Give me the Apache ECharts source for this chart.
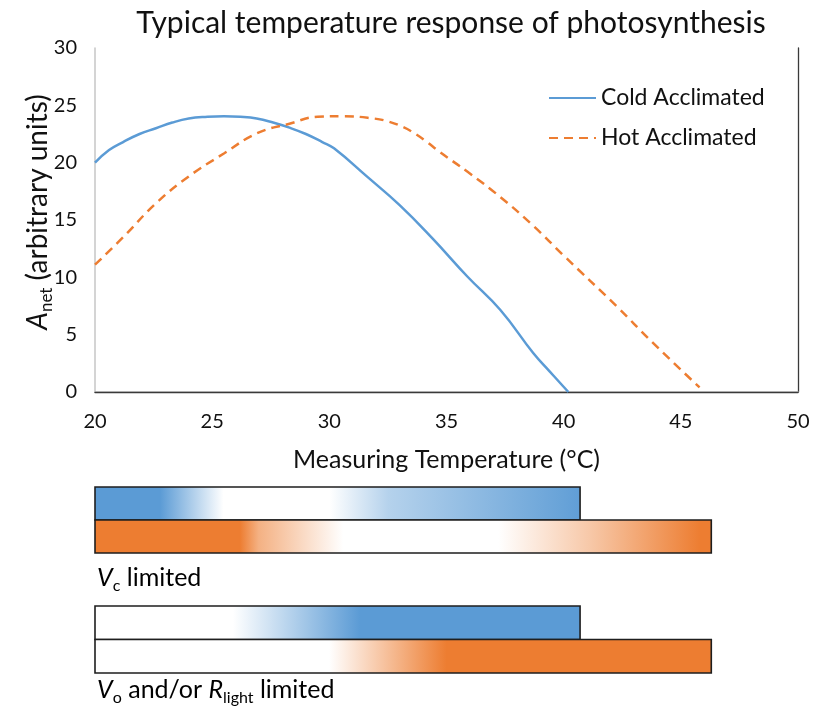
<!DOCTYPE html>
<html><head><meta charset="utf-8">
<script src="https://cdn.jsdelivr.net/npm/echarts@6/dist/echarts.min.js"></script>
<style>html,body{margin:0;padding:0;background:#fff}#c{width:815px;height:714px}</style>
</head><body><div id="c"></div>
<script>
// ---------- data ----------
const titleText = 'Typical temperature response of photosynthesis';
const xAxisName = 'Measuring Temperature (°C)';
const yAxisName = '{it|A}{sub|net} (arbitrary units)';
const xMin = 20, xMax = 50, xStep = 5;
const yMin = 0, yMax = 30, yStep = 5;
const seriesNames = ['Cold Acclimated', 'Hot Acclimated'];

const coldT = [20, 20.6, 21.2, 21.9, 22.6, 23.3, 24.0, 24.8, 25.5, 26.2, 26.9, 27.6, 28.3, 29.0, 29.7, 30.2, 31.6, 33.0, 34.4, 35.9, 37.3, 38.7, 39.4, 40.2];
const coldA = [20.0, 21.1, 21.8, 22.5, 23.0, 23.5, 23.85, 24.0, 24.05, 24.0, 23.85, 23.5, 23.05, 22.5, 21.8, 21.25, 18.8, 16.3, 13.4, 10.05, 7.15, 3.4, 1.8, 0];

const hotT = [20, 21.2, 22.6, 24.0, 25.5, 26.9, 28.3, 29.5, 30.6, 31.9, 32.5, 33.1, 33.6, 34.1, 34.7, 35.9, 37.3, 38.7, 40.0, 42.3, 43.7, 45.8];
const hotA = [11.1, 13.5, 16.45, 18.8, 20.8, 22.55, 23.4, 24.0, 24.05, 23.85, 23.6, 23.15, 22.6, 21.9, 20.95, 19.2, 17.0, 14.5, 11.9, 7.4, 4.5, 0.4];

// bars: start/end temperature per acclimation
const barStart = [20, 20];
const barEnd = [40.7, 46.3];
const barLabels = ['{it|V}{sub|c} limited', '{it|V}{sub|o} and/or {it|R}{sub|light} limited'];
// colour intensity along the bar: [temperature, intensity 0 (white) .. 1 (full colour)]
const vcColdStops = [[20, 1], [22.8, 1], [25.5, 0], [30.0, 0], [32.5, 0.45], [40.7, 0.97]];
const vcHotStops  = [[20, 1], [26.2, 1], [27.0, 0.6], [30.6, 0], [37.2, 0], [41.1, 0.42], [45.8, 1], [46.3, 1]];
const voColdStops = [[20, 0], [25.9, 0], [31.3, 1], [40.7, 1]];
const voHotStops  = [[20, 0], [30.0, 0], [35.0, 1], [46.3, 1]];

// ---------- style ----------
const FONT = 'Lato';
const BLUE = '#5B9BD5', ORANGE = '#ED7D31';
const barColors = [BLUE, ORANGE];

function mix(hex, k) {
  const n = parseInt(hex.slice(1), 16);
  const c = [(n >> 16) & 255, (n >> 8) & 255, n & 255].map(v => Math.round(255 + (v - 255) * k));
  return 'rgb(' + c.join(',') + ')';
}

function barSeries(idx, stopsList) {
  return {
    type: 'custom',
    xAxisIndex: idx, yAxisIndex: idx,
    data: barEnd.map((e, i) => [barStart[i], e, i]),
    encode: { x: [0, 1], y: 2 },
    silent: true,
    renderItem: function (params, api) {
      const i = params.dataIndex;
      const s = api.value(0), e = api.value(1), row = api.value(2);
      const p0 = api.coord([s, row]);
      const p1 = api.coord([e, row]);
      const h = api.size([0, 1])[1];
      const stops = stopsList[i].map(([t, k]) => ({ offset: (t - s) / (e - s), color: mix(barColors[i], k) }));
      return {
        type: 'rect',
        shape: { x: p0[0], y: p0[1] - h / 2, width: p1[0] - p0[0], height: h },
        style: { fill: new echarts.graphic.LinearGradient(0, 0, 1, 0, stops), stroke: '#1e1e1e', lineWidth: 1.6 }
      };
    }
  };
}

const richSub = {
  it: { fontStyle: 'italic', fontFamily: FONT, fontSize: 25, lineHeight: 32, color: '#000' },
  sub: { fontFamily: FONT, fontSize: 16, lineHeight: 16, verticalAlign: 'bottom', color: '#000' }
};

const hiddenX = (g) => ({ gridIndex: g, type: 'value', min: xMin, max: xMax, interval: xStep, show: false });
const hiddenY = (g) => ({ gridIndex: g, type: 'category', data: seriesNames, inverse: true, show: false });

const chart = echarts.init(document.getElementById('c'), null, { renderer: 'canvas' });
chart.setOption({
  animation: false,
  backgroundColor: '#fff',
  textStyle: { fontFamily: FONT },
  title: {
    text: titleText, left: 446, top: 3, textAlign: 'center',
    textStyle: { fontFamily: FONT, fontSize: 30, fontWeight: 'normal', color: '#111' }
  },
  legend: {
    data: seriesNames, orient: 'vertical', left: 548, top: 86, padding: 0,
    itemWidth: 47, itemHeight: 14, itemGap: 16,
    itemStyle: { color: 'rgba(0,0,0,0)', borderWidth: 0, opacity: 0 },
    textStyle: { fontFamily: FONT, fontSize: 23, color: '#111', lineHeight: 24 }
  },
  grid: [
    { left: 95, top: 48, width: 703, height: 344 },
    { left: 95, top: 487, width: 703, height: 66 },
    { left: 95, top: 606, width: 703, height: 67 }
  ],
  xAxis: [
    {
      gridIndex: 0, type: 'value', min: xMin, max: xMax, interval: xStep,
      axisLine: { lineStyle: { color: '#c6c6c6', width: 1.5 } },
      axisTick: { show: false }, splitLine: { show: false },
      axisLabel: { fontFamily: FONT, fontSize: 20, color: '#111', margin: 20 },
      name: xAxisName, nameLocation: 'middle', nameGap: 55, nameMoveOverlap: false,
      nameTextStyle: { fontFamily: FONT, fontSize: 25, color: '#111' }
    },
    hiddenX(1), hiddenX(2),
    {
      gridIndex: 0, type: 'value', min: xMin, max: xMax, position: 'top',
      axisLine: { lineStyle: { color: '#3a3a3a', width: 1.3 } },
      axisTick: { show: false }, axisLabel: { show: false }, splitLine: { show: false }
    }
  ],
  yAxis: [
    {
      gridIndex: 0, type: 'value', min: yMin, max: yMax, interval: yStep,
      axisLine: { show: true, lineStyle: { color: '#c6c6c6', width: 1.5 } },
      axisTick: { show: false }, splitLine: { show: false },
      axisLabel: { fontFamily: FONT, fontSize: 20, color: '#111', margin: 18 },
      name: yAxisName, nameLocation: 'middle', nameGap: 40, nameRotate: 90, nameMoveOverlap: false,
      nameTextStyle: {
        fontFamily: FONT, fontSize: 28, color: '#111', lineHeight: 34,
        padding: [0, 0, 0, 16],
        rich: {
          it: { fontStyle: 'italic', fontFamily: FONT, fontSize: 28, lineHeight: 34, color: '#111' },
          sub: { fontFamily: FONT, fontSize: 17, lineHeight: 17, verticalAlign: 'bottom', color: '#111' }
        }
      }
    },
    hiddenY(1), hiddenY(2),
    {
      gridIndex: 0, type: 'value', min: yMin, max: yMax, position: 'right',
      axisLine: { show: true, lineStyle: { color: '#3a3a3a', width: 1.3 } },
      axisTick: { show: false }, axisLabel: { show: false }, splitLine: { show: false }
    }
  ],
  graphic: [
    {
      type: 'text', left: 97, top: 562,
      style: { text: barLabels[0], fontFamily: FONT, fontSize: 25, fill: '#000', lineHeight: 32, rich: richSub }
    },
    {
      type: 'text', left: 97, top: 674,
      style: { text: barLabels[1], fontFamily: FONT, fontSize: 25, fill: '#000', lineHeight: 32, rich: richSub }
    }
  ],
  series: [
    {
      name: seriesNames[0], type: 'line', xAxisIndex: 0, yAxisIndex: 0,
      data: coldT.map((t, i) => [t, coldA[i]]),
      smooth: 0.45, symbol: 'none',
      lineStyle: { color: BLUE, width: 2.5 }, itemStyle: { color: BLUE }
    },
    {
      name: seriesNames[1], type: 'line', xAxisIndex: 0, yAxisIndex: 0,
      data: hotT.map((t, i) => [t, hotA[i]]),
      smooth: 0.45, symbol: 'none',
      lineStyle: { color: ORANGE, width: 2.5, type: [9, 6] }, itemStyle: { color: ORANGE }
    },
    barSeries(1, [vcColdStops, vcHotStops]),
    barSeries(2, [voColdStops, voHotStops])
  ]
});
</script>
</body></html>
